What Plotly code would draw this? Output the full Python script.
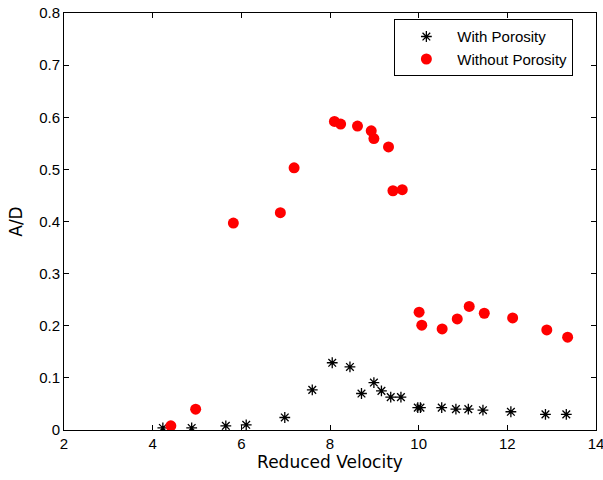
import plotly.graph_objects as go

with_x = [4.23, 4.88, 5.65, 6.11, 6.98, 7.60, 8.05, 8.45, 8.71, 8.99, 9.16, 9.37, 9.60,
          9.98, 10.04, 10.52, 10.84, 11.12, 11.45, 12.08, 12.86, 13.33]
with_y = [0.004, 0.004, 0.008, 0.010, 0.024, 0.077, 0.129, 0.121, 0.070, 0.091, 0.075, 0.063, 0.063,
          0.043, 0.043, 0.043, 0.040, 0.040, 0.038, 0.035, 0.030, 0.030]

without_x = [4.41, 4.97, 5.82, 6.88, 7.19, 8.10, 8.24, 8.62, 8.93, 8.99, 9.32, 9.42, 9.63,
             10.01, 10.07, 10.53, 10.87, 11.14, 11.48, 12.12, 12.89, 13.36]
without_y = [0.008, 0.040, 0.397, 0.417, 0.503, 0.592, 0.587, 0.583, 0.574, 0.559, 0.543, 0.459, 0.461,
             0.226, 0.201, 0.194, 0.213, 0.237, 0.224, 0.215, 0.192, 0.178]

x_ticks = [2, 4, 6, 8, 10, 12, 14]
y_ticks = [0, 0.1, 0.2, 0.3, 0.4, 0.5, 0.6, 0.7, 0.8]
y_tick_text = ["0", "0.1", "0.2", "0.3", "0.4", "0.5", "0.6", "0.7", "0.8"]

fig = go.Figure()
fig.add_trace(go.Scatter(
    x=with_x, y=with_y, mode="markers", name="With Porosity",
    marker=dict(symbol="asterisk-open", size=9, color="black", line=dict(color="black", width=1.3)),
))
fig.add_trace(go.Scatter(
    x=without_x, y=without_y, mode="markers", name="Without Porosity",
    marker=dict(symbol="circle", size=11, color="#ff0000", line=dict(width=0)),
))

axis_common = dict(
    showline=True, linecolor="black", linewidth=1, mirror="ticks",
    ticks="inside", ticklen=5, tickcolor="black", tickwidth=1,
    showgrid=False, zeroline=False, automargin=False,
    ticklabeloverflow="allow",
    tickfont=dict(family="Liberation Sans, Arial", size=15, color="black"),
)

title_font = dict(family="DejaVu Sans", size=17, color="black")

fig.update_layout(
    width=603, height=480,
    margin=dict(l=64, r=7, t=13, b=50),
    paper_bgcolor="white", plot_bgcolor="white",
    font=dict(family="Liberation Sans, Arial", color="black"),
    xaxis=dict(range=[2, 14], tickvals=x_ticks, ticktext=[str(v) for v in x_ticks],
               title=dict(text="Reduced Velocity", font=title_font, standoff=4), **axis_common),
    yaxis=dict(range=[0, 0.8], tickvals=y_ticks, ticktext=y_tick_text,
               title=dict(text="A/D", font=title_font, standoff=12), **axis_common),
    legend=dict(x=0.621, y=0.985, xanchor="left", yanchor="top",
                bgcolor="white", bordercolor="black", borderwidth=1,
                font=dict(family="Liberation Sans, Arial", size=15, color="black"),
                itemwidth=52, tracegroupgap=0),
    showlegend=True,
)

fig.write_html("out.html")
